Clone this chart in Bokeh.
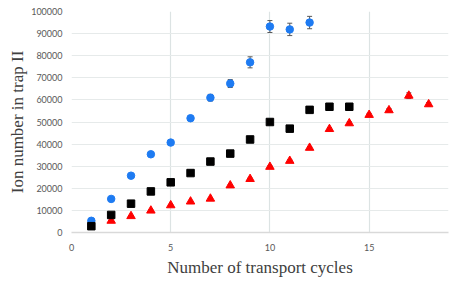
from bokeh.plotting import figure
from bokeh.models import ColumnDataSource, Whisker, TeeHead, FixedTicker, Range1d, NumeralTickFormatter
from bokeh.embed import file_html
from bokeh.resources import INLINE

# Data
cycles_blue = [1, 2, 3, 4, 5, 6, 7, 8, 9, 10, 11, 12]
ions_blue = [5300, 15200, 25700, 35400, 40700, 51700, 61000, 67400, 77000, 93200, 91900, 95000]
err_blue = [300, 400, 500, 600, 700, 1000, 1500, 1800, 2500, 2700, 2800, 2800]

cycles_black = [1, 2, 3, 4, 5, 6, 7, 8, 9, 10, 11, 12, 13, 14]
ions_black = [2850, 7950, 13050, 18600, 22700, 26900, 32100, 35700, 42100, 50000, 47000, 55500, 56900, 56900]

cycles_red = [2, 3, 4, 5, 6, 7, 8, 9, 10, 11, 12, 13, 14, 15, 16, 17, 18]
ions_red = [5300, 7400, 9900, 12300, 14000, 15300, 21300, 24200, 29700, 32400, 38300, 46800, 49400, 53200, 55300, 61900, 58000]
err_red = [200, 200, 300, 300, 300, 300, 400, 400, 500, 500, 600, 600, 700, 700, 800, 1300, 800]

x_ticks = [0, 5, 10, 15]
y_ticks = [0, 10000, 20000, 30000, 40000, 50000, 60000, 70000, 80000, 90000, 100000]
x_title = "Number of transport cycles"
y_title = "Ion number in trap II"

p = figure(width=455, height=279, output_backend="svg", toolbar_location=None,
           x_range=Range1d(0, 19), y_range=Range1d(0, 100000),
           min_border_left=71, min_border_right=7, min_border_top=11, min_border_bottom=46)
p.outline_line_color = None
p.background_fill_color = "white"
p.border_fill_color = "white"

# grids
p.xgrid.ticker = FixedTicker(ticks=x_ticks)
p.ygrid.ticker = FixedTicker(ticks=y_ticks)
p.xgrid.grid_line_color = "#DCE3E3"
p.ygrid.grid_line_color = "#E6EAEA"
p.xgrid.grid_line_width = 1.2
p.ygrid.grid_line_width = 1.2

# axes
p.xaxis.ticker = FixedTicker(ticks=x_ticks)
p.yaxis.ticker = FixedTicker(ticks=y_ticks)
p.yaxis.formatter = NumeralTickFormatter(format="0")
for ax in (p.xaxis[0], p.yaxis[0]):
    ax.major_tick_line_color = None
    ax.minor_tick_line_color = None
    ax.major_tick_out = 0
    ax.major_tick_in = 0
    ax.minor_tick_out = 0
    ax.minor_tick_in = 0
    ax.major_label_text_font = "Lato"
    ax.major_label_text_font_size = "9px"
    ax.major_label_text_color = "#595959"
    ax.axis_label_text_font = "Liberation Serif"
    ax.axis_label_text_font_size = "17px"
    ax.axis_label_text_font_style = "normal"
    ax.axis_label_text_color = "#404040"
p.xaxis.axis_line_color = "#D9D9D9"
p.xaxis.axis_line_width = 1.5
p.yaxis.axis_line_color = None
p.xaxis.major_label_standoff = 11
p.yaxis.major_label_standoff = 9
p.xaxis.axis_label = x_title
p.yaxis.axis_label = y_title
p.xaxis.axis_label_standoff = 4
p.yaxis.axis_label_standoff = 1

src_b = ColumnDataSource(dict(x=cycles_blue, y=ions_blue,
                              lo=[v - e for v, e in zip(ions_blue, err_blue)],
                              hi=[v + e for v, e in zip(ions_blue, err_blue)]))
src_k = ColumnDataSource(dict(x=cycles_black, y=ions_black))
src_r = ColumnDataSource(dict(x=cycles_red, y=ions_red,
                              lo=[v - e for v, e in zip(ions_red, err_red)],
                              hi=[v + e for v, e in zip(ions_red, err_red)]))

for src in (src_r, src_b):
    w = Whisker(source=src, base="x", lower="lo", upper="hi",
                line_color="#595959", line_width=1,
                upper_head=TeeHead(size=5, line_color="#595959", line_width=1),
                lower_head=TeeHead(size=5, line_color="#595959", line_width=1))
    p.add_layout(w)

p.scatter("x", "y", source=src_r, marker="triangle", size=8.5, fill_color="#FF0000", line_color="#FF0000")
p.scatter("x", "y", source=src_b, marker="circle", size=7.5, fill_color="#1E7BF2", line_color="#1E7BF2")
p.scatter("x", "y", source=src_k, marker="square", size=7.5, fill_color="black", line_color="black")

open("out.html", "w").write(file_html(p, INLINE))
